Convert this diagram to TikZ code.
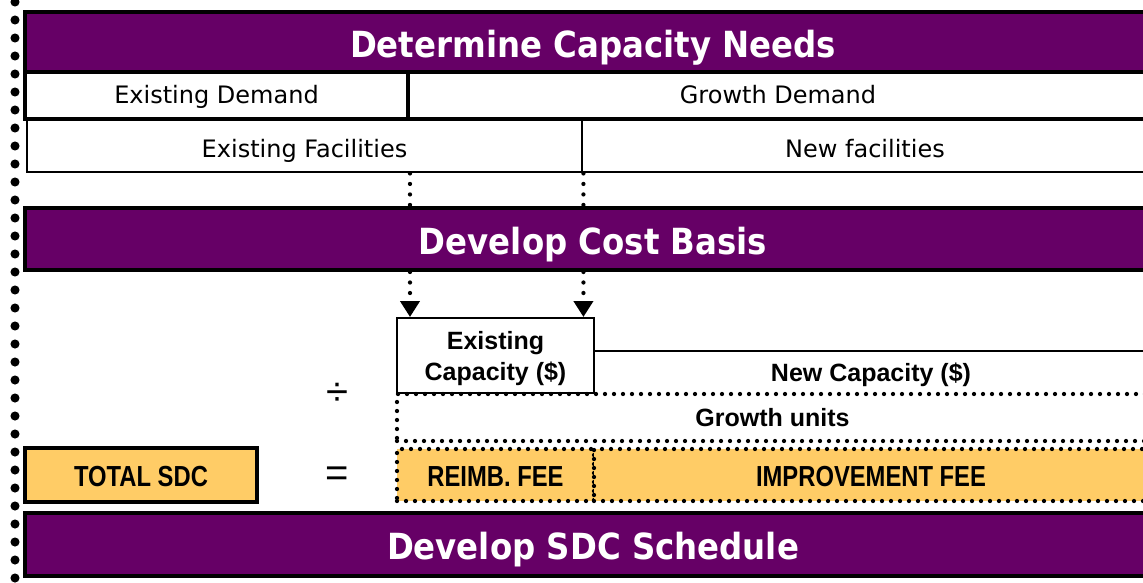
\documentclass[tikz,border=0pt]{standalone}
\usepackage{fontspec}
\usetikzlibrary{arrows.meta}
\definecolor{sdcpurple}{HTML}{660066}
\definecolor{sdcorange}{HTML}{FFCC66}
\newfontfamily\headfont{DejaVu Sans}[FakeStretch=0.9]
\newfontfamily\rowfont{DejaVu Sans}
\newfontfamily\boxfont{Liberation Sans}
\newfontfamily\narrowfont{Liberation Sans}[FakeStretch=0.82]
\tikzset{
	bar/.style={draw=black, line width=1.4mm, fill=sdcpurple, text=white, inner sep=0pt, text height=30pt, text depth=0pt, font=\headfont\bfseries\fontsize{36}{40}\selectfont},
	cell/.style={draw=black, inner sep=0pt, font=\rowfont\fontsize{24}{28}\selectfont},
	dots/.style={line width=1.5mm, dash pattern=on 0pt off 9pt, line cap=round},
	capbox/.style={inner sep=0pt, text depth=0pt, font=\boxfont\bfseries\fontsize{25}{31}\selectfont, align=center},
	fee/.style={fill=sdcorange, inner sep=0pt, text height=22pt, text depth=0pt, font=\narrowfont\bfseries\fontsize{29}{32}\selectfont},
	sign/.style={font=\boxfont\fontsize{40}{44}\selectfont}
}

\begin{document}
\begin{tikzpicture}[x=1pt, y=-1pt]
			%%%%% START %%%%%
			\useasboundingbox (0, 0) rectangle (1143, 582);
			\clip (0, 0) rectangle (1143, 582);
			
			\coordinate (railtop) at (15, 2);
			\coordinate (railbot) at (15, 590);
			\draw[dots, line width=3.2mm, dash pattern=on 0pt off 18pt] (railtop) -- (railbot);
			
			\node[bar, minimum width=1136, minimum height=60] (needs) at (593, 42) {Determine Capacity Needs};
			
			\node[cell, line width=1.4mm, text height=20pt, text depth=5pt, minimum width=383, minimum height=47] (demold) at (216.5, 95.5) {Existing Demand};
			\node[cell, line width=1.4mm, text height=20pt, text depth=5pt, minimum width=740, minimum height=47] (demnew) at (778, 95.5) {Growth Demand};
			\node[cell, line width=1mm, text height=23pt, text depth=0pt, minimum width=555, minimum height=52] (facold) at (304.5, 146) {Existing Facilities};
			\node[cell, line width=1mm, text height=23pt, text depth=0pt, minimum width=566, minimum height=52] (facnew) at (865, 146) {New facilities};
			
			\node[bar, minimum width=1136, minimum height=62] (basis) at (593, 239) {Develop Cost Basis};
			
			\node[capbox, draw, line width=0.7mm, minimum width=197, minimum height=75] (capold) at (495.5, 355.5) {Existing\\Capacity (\$)};
			\node[capbox, minimum width=554, minimum height=43] (capnew) at (871, 372.5) {New Capacity (\$)};
			\draw[line width=0.7mm] (capold.east |- capnew.north) -- (capnew.north east);
			\node[capbox, draw, dots, minimum width=751, minimum height=47] (units) at (772.5, 417.5) {Growth units};
			
			\node[fee, draw, line width=1.4mm, minimum width=232, minimum height=54] (total) at (141, 475) {TOTAL SDC};
			\node[fee, draw, dots, minimum width=197, minimum height=52] (reimb) at (495.5, 475) {REIMB. FEE};
			\node[fee, draw, dots, minimum width=554, minimum height=52] (improve) at (871, 475) {IMPROVEMENT FEE};
			
			\node[sign] (divide) at (337, 394) {÷};
			\node[sign] (equals) at (337, 477) {=};
			
			\node[bar, minimum width=1136, minimum height=63] (schedule) at (593, 544.5) {Develop SDC Schedule};
			
			\draw[dots, dash pattern=on 0pt off 10.5pt] (demold.east |- facold.south) -- (demold.east |- basis.north);
			\draw[dots, dash pattern=on 0pt off 10.5pt] (facold.south east) -- (facold.east |- basis.north);
			\draw[dots, dash pattern=on 0pt off 10.5pt, -{Triangle[width=19pt, length=16pt]}] (demold.east |- basis.south) -- (demold.east |- capold.north);
			\draw[dots, dash pattern=on 0pt off 10.5pt, -{Triangle[width=19pt, length=16pt]}] (facold.east |- basis.south) -- (facold.east |- capold.north);
			%%%%% END %%%%%
\end{tikzpicture}
\end{document}
